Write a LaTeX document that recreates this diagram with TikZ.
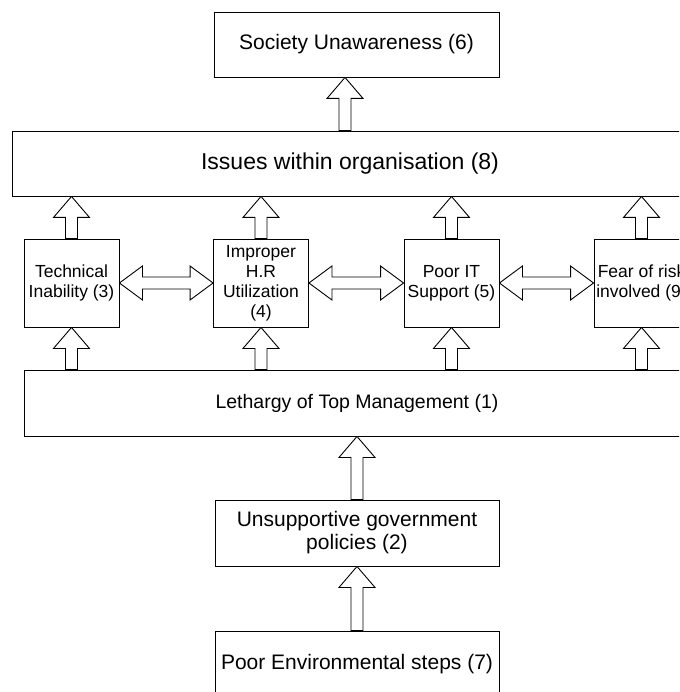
\documentclass[tikz,border=0pt]{standalone}
\usepackage{fontspec}
\setmainfont{Liberation Sans}
\usepackage{tikz}
\usetikzlibrary{calc}
\tikzset{
	box/.style     ={rectangle, draw=black, line width=0.9pt, align=center, inner sep=1pt, font=\fontsize{21}{23}\selectfont},
	smallbox/.style={box, minimum width=95pt, minimum height=88pt, font=\fontsize{17.5}{20}\selectfont},
	fat/.style     ={draw=black, line width=0.9pt, fill=white, line join=miter},
}
% hollow block arrows: from, to, node giving the x position
\newcommand{\fatup}[3]{%
	\draw[fat] let \p1=(#1.north), \p2=(#2.south), \p3=(#3) in
	(\x3-6pt,\y1) -- (\x3-6pt,\y2-21pt) -- (\x3-18pt,\y2-21pt) -- (\x3,\y2) -- (\x3+18pt,\y2-21pt) -- (\x3+6pt,\y2-21pt) -- (\x3+6pt,\y1) -- cycle;}
\newcommand{\fatboth}[2]{%
	\draw[fat] let \p1=(#1.east), \p2=(#2.west) in
	(\x1,\y1) -- (\x1+23pt,\y1+17pt) -- (\x1+23pt,\y1+6pt) -- (\x2-23pt,\y1+6pt) -- (\x2-23pt,\y1+17pt) -- (\x2,\y1)
	-- (\x2-23pt,\y1-17pt) -- (\x2-23pt,\y1-6pt) -- (\x1+23pt,\y1-6pt) -- (\x1+23pt,\y1-17pt) -- cycle;}

\begin{document}
\begin{tikzpicture}[x=1pt, y=1pt]
	\clip (0,0) rectangle (679,-692);
	\fill[white] (0,0) rectangle (679,-692);
	\node[box, minimum width=285pt, minimum height=65pt] (society) at (356.5,-44.5) {Society Unawareness (6)};
	\node[box, minimum width=676pt, minimum height=65pt, font=\fontsize{23}{26}\selectfont] (issues) at (350,-163.5) {Issues within organisation (8)};
	\node[smallbox] (tech) at (71.5,-283) {Technical\\Inability (3)};
	\node[smallbox] (hr) at (261,-283) {Improper\\H.R\\Utilization\\(4)};
	\node[smallbox] (it) at (451.5,-283) {Poor IT\\Support (5)};
	\node[smallbox] (fear) at (641.5,-283) {Fear of risk\\involved (9)};
	\node[box, minimum width=666pt, minimum height=66pt, font=\fontsize{19.5}{22}\selectfont] (lethargy) at (357,-403) {Lethargy of Top Management (1)};
	\node[box, minimum width=284pt, minimum height=66pt] (unsup) at (357,-533) {Unsupportive government\\policies (2)};
	\node[box, minimum width=284pt, minimum height=66pt] (env) at (357,-664) {Poor Environmental steps (7)};
	% arrows
	\coordinate (up6) at (345,-100);
	\fatup{issues}{society}{up6}
	\foreach \b in {tech,hr,it,fear}{
		\fatup{\b}{issues}{\b}
		\fatup{lethargy}{\b}{\b}
	}
	\fatboth{tech}{hr}
	\fatboth{hr}{it}
	\fatboth{it}{fear}
	\fatup{unsup}{lethargy}{unsup}
	\fatup{env}{unsup}{env}
\end{tikzpicture}
\end{document}
